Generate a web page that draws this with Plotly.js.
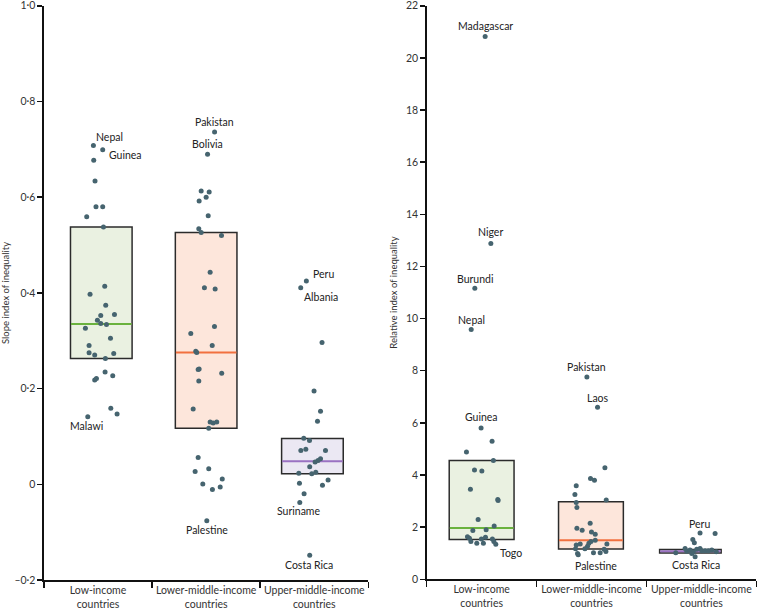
<!DOCTYPE html>
<html>
<head>
<meta charset="utf-8">
<script src="https://cdn.plot.ly/plotly-3.0.1.min.js"></script>
<style>
html,body{margin:0;padding:0;background:#fff;}
#chart{width:757px;height:609px;}
</style>
</head>
<body>
<div id="chart"></div>
<script>
// ---------- DATA ----------
const categories = ['Low-income<br>countries', 'Lower-middle-income<br>countries', 'Upper-middle-income<br>countries'];

// Slope index of inequality (left panel)
const siiLowValues = [0.708,0.699,0.677,0.634,0.580,0.580,0.559,0.5375,0.414,0.397,0.374,0.355,0.353,0.343,0.336,0.334,0.326,0.305,0.290,0.275,0.270,0.2735,0.263,0.2346,0.227,0.221,0.218,0.141,0.159,0.147];
const siiLowJitter = [-0.043,0.043,-0.04,-0.028,-0.019,0.043,-0.105,0.05,0.062,-0.074,0.071,0.152,0.025,-0.006,0.025,0.078,-0.117,0.115,-0.083,-0.083,-0.031,0.145,0.068,0.065,0.136,-0.015,-0.031,-0.095,0.118,0.176];
const siiLowNames = ['Nepal','Guinea','','','','','','','','','','','','','','','','','','','','','','','','','','Malawi','',''];

const siiLmValues = [0.736,0.690,0.613,0.611,0.600,0.592,0.561,0.534,0.526,0.520,0.443,0.411,0.408,0.330,0.315,0.290,0.278,0.2756,0.241,0.240,0.232,0.216,0.1575,0.130,0.128,0.130,0.117,0.056,0.027,0.0325,0.0006,0.011,-0.011,-0.0056,-0.076];
const siiLmJitter = [0.078,0.013,-0.046,0.028,0.0,-0.065,0.019,-0.068,-0.046,0.142,0.037,-0.016,0.083,0.077,-0.142,0.056,-0.096,-0.087,-0.065,-0.074,0.144,-0.068,-0.12,0.037,0.065,0.098,0.024,-0.074,-0.102,0.024,-0.031,0.149,0.058,0.13,0.006];
const siiLmNames = ['Pakistan','Bolivia','','','','','','','','','','','','','','','','','','','','','','','','','','','','','','','','','Palestine'];

const siiUmValues = [0.425,0.411,0.2965,0.195,0.1527,0.132,0.0965,0.0917,0.0708,0.0735,0.0708,0.0533,0.05,0.0465,0.0367,0.023,0.022,0.025,0.002,0.009,-0.002,-0.0196,-0.038,-0.148];
const siiUmJitter = [-0.073,-0.125,0.072,-0.002,0.058,0.03,-0.097,-0.044,-0.124,-0.078,0.104,0.058,0.035,0.008,-0.042,-0.143,-0.023,0.014,-0.137,0.128,0.076,-0.094,-0.134,-0.042];
const siiUmNames = ['Peru','Albania','','','','','','','','','','','','','','','','','','','','','Suriname','Costa Rica'];

const siiQ1 = [0.263, 0.117, 0.022];
const siiMedian = [0.335, 0.2756, 0.048];
const siiQ3 = [0.5375, 0.526, 0.0958];

// Relative index of inequality (right panel)
const riiLowValues = [20.82,12.88,11.16,9.58,5.80,5.30,4.88,4.56,4.19,4.15,3.45,3.06,3.02,2.29,2.04,1.90,1.87,1.63,1.57,1.45,1.38,1.38,1.55,1.61,1.55,1.45,1.34];
const riiLowJitter = [0.032,0.084,-0.062,-0.095,-0.005,0.095,-0.138,0.107,-0.065,0.002,-0.102,0.147,0.15,-0.032,0.114,0.041,-0.08,-0.129,-0.111,-0.098,-0.044,0.016,-0.002,0.035,0.098,0.111,0.129];
const riiLowNames = ['Madagascar','Niger','Burundi','Nepal','Guinea','','','','','','','','','','','','','','','','','','','','','','Togo'];

const riiLmValues = [7.76,6.60,4.28,3.87,3.80,3.59,3.25,3.04,2.95,2.75,2.15,1.96,1.88,1.81,1.73,1.50,1.45,1.38,1.35,1.32,1.35,1.27,1.17,1.17,1.15,1.07,1.02,1.02,0.99,0.94];
const riiLmJitter = [-0.042,0.055,0.122,-0.009,0.027,-0.139,-0.151,0.134,-0.139,-0.133,-0.012,-0.133,-0.085,0.0,0.034,0.034,-0.005,-0.024,-0.103,-0.139,0.14,-0.036,-0.06,-0.145,0.115,0.131,0.018,0.079,-0.127,-0.121];
const riiLmNames = ['Pakistan','Laos','','','','','','','','','','','','','','','','','','','','','','','','','Palestine','','',''];

const riiUmValues = [1.78,1.76,1.53,1.40,1.18,1.08,1.12,1.06,1.15,1.18,1.09,1.09,1.09,1.12,0.99,0.86,1.02,1.06];
const riiUmJitter = [-0.012,0.125,-0.078,-0.064,-0.148,-0.133,-0.103,-0.073,-0.042,-0.012,0.004,0.034,0.064,0.095,-0.087,-0.057,-0.233,0.136];
const riiUmNames = ['Peru','','','','','','','','','','','','','','','Costa Rica','',''];

const riiQ1 = [1.53, 1.16, 1.01];
const riiMedian = [1.97, 1.50, 1.075];
const riiQ3 = [4.56, 2.97, 1.14];

// ---------- STYLE ----------
const FONT = 'Lato, "Open Sans", sans-serif';
const dotColor = '#46646f';
const boxFill = ['#eaf1e1', '#fde6db', '#ebe8f3'];
const medianColor = ['#6ab23e', '#f2703f', '#9a72c2'];
const siiBoxCenter = [0.03, 0.0, -0.017];
const riiBoxCenter = [0.0, -0.005, -0.1];
const siiBoxWidth = [0.57, 0.57, 0.57];
const riiBoxWidth = [0.59, 0.59, 0.56];

// label offsets (pixels): [xanchor, xshift, yshift]
const labelOffsets = {
  'sii|Nepal': ['left', 1, 8.5], 'sii|Guinea': ['left', 4, -5], 'sii|Malawi': ['center', -1, -9.5],
  'sii|Pakistan': ['center', 0, 10], 'sii|Bolivia': ['center', 0, 10], 'sii|Palestine': ['center', 0, -9.5],
  'sii|Peru': ['left', 5, 6.6], 'sii|Albania': ['left', 1, -9], 'sii|Suriname': ['center', -0.7, -8.5],
  'sii|Costa Rica': ['center', -1, -10],
  'rii|Madagascar': ['center', 0.5, 11], 'rii|Niger': ['center', -0.7, 11.6], 'rii|Burundi': ['center', 0, 9],
  'rii|Nepal': ['center', 0, 9.7], 'rii|Pakistan': ['center', -0.7, 10.3], 'rii|Laos': ['center', 0, 9.7],
  'rii|Guinea': ['center', 0, 11], 'rii|Togo': ['left', 2.3, -9], 'rii|Palestine': ['center', 2.4, -13],
  'rii|Peru': ['center', -0.4, 9], 'rii|Costa Rica': ['center', 1, -8]
};

const groupsSii = [[siiLowValues, siiLowJitter, siiLowNames], [siiLmValues, siiLmJitter, siiLmNames], [siiUmValues, siiUmJitter, siiUmNames]];
const groupsRii = [[riiLowValues, riiLowJitter, riiLowNames], [riiLmValues, riiLmJitter, riiLmNames], [riiUmValues, riiUmJitter, riiUmNames]];

const traces = [];
const shapes = [];
const annotations = [];

function buildPanel(groups, q1, med, q3, centers, widths, xa, ya, key) {
  groups.forEach((g, i) => {
    const [vals, jit, names] = g;
    traces.push({
      type: 'scatter', mode: 'markers', xaxis: xa, yaxis: ya,
      x: jit.map(j => i + j), y: vals,
      marker: {size: 5, color: dotColor},
      hoverinfo: 'skip', showlegend: false
    });
    const xr = xa === 'x' ? 'x' : 'x2';
    const yr = ya === 'y' ? 'y' : 'y2';
    shapes.push({type: 'rect', xref: xr, yref: yr, layer: 'below',
      x0: i + centers[i] - widths[i] / 2, x1: i + centers[i] + widths[i] / 2, y0: q1[i], y1: q3[i],
      fillcolor: boxFill[i], line: {color: '#2b2b2b', width: 1.5}});
    shapes.push({type: 'line', xref: xr, yref: yr, layer: 'below',
      x0: i + centers[i] - widths[i] / 2 + 0.005, x1: i + centers[i] + widths[i] / 2 - 0.005, y0: med[i], y1: med[i],
      line: {color: medianColor[i], width: 2}});
    names.forEach((n, k) => {
      if (!n) return;
      const off = labelOffsets[key + '|' + n] || ['center', 0, 10];
      annotations.push({xref: xr, yref: yr, x: i + jit[k], y: vals[k], text: n, showarrow: false,
        xanchor: off[0], yanchor: 'middle', xshift: off[1], yshift: off[2],
        font: {family: FONT, size: 10.5, color: '#222'}});
    });
  });
}

buildPanel(groupsSii, siiQ1, siiMedian, siiQ3, siiBoxCenter, siiBoxWidth, 'x', 'y', 'sii');
buildPanel(groupsRii, riiQ1, riiMedian, riiQ3, riiBoxCenter, riiBoxWidth, 'x2', 'y2', 'rii');

const siiTicks = [-0.2, 0, 0.2, 0.4, 0.6, 0.8, 1.0];
const siiTickText = ['\u20130\u00b72', '0', '0\u00b72', '0\u00b74', '0\u00b76', '0\u00b78', '1\u00b70'];
const riiTicks = [0, 2, 4, 6, 8, 10, 12, 14, 16, 18, 20, 22];

const xBase = {
  range: [-0.5, 2.5], tickmode: 'array', tickvals: [0, 1, 2], ticktext: categories,
  ticks: '', showline: true, linecolor: '#111', linewidth: 1.5, showgrid: false, zeroline: false,
  tickfont: {family: FONT, size: 10.5, color: '#333'}, fixedrange: true, ticklabeloverflow: 'allow',
  minor: {tickmode: 'array', tickvals: [-0.5, 0.5, 1.5, 2.5], ticks: 'outside', ticklen: 6, tickwidth: 1.5, tickcolor: '#111', showgrid: false}
};
const yBase = {
  showline: true, linecolor: '#111', linewidth: 1.5, showgrid: false, zeroline: false,
  ticks: 'outside', ticklen: 5, tickwidth: 1.5, tickcolor: '#111', ticklabeloverflow: 'allow',
  tickfont: {family: FONT, size: 10.5, color: '#333'}, fixedrange: true
};

const layout = {
  width: 757, height: 609,
  margin: {l: 0, r: 0, t: 0, b: 0},
  paper_bgcolor: '#fff', plot_bgcolor: '#fff',
  showlegend: false,
  xaxis: Object.assign({}, xBase, {domain: [0.05812, 0.48653], anchor: 'y'}),
  xaxis2: Object.assign({}, xBase, {domain: [0.56367, 0.99908], anchor: 'y2'}),
  yaxis: Object.assign({}, yBase, {domain: [0.0476, 0.9905], anchor: 'x', range: [-0.2, 1.0],
    tickmode: 'array', tickvals: siiTicks, ticktext: siiTickText,
    title: {text: 'Slope index of inequality', font: {family: FONT, size: 9.5, color: '#333'}, standoff: 7}}),
  yaxis2: Object.assign({}, yBase, {domain: [0.0488, 0.9905], anchor: 'x2', range: [0, 22],
    tickmode: 'array', tickvals: riiTicks,
    title: {text: 'Relative index of inequality', font: {family: FONT, size: 9.5, color: '#333'}, standoff: 6}}),
  shapes: shapes,
  annotations: annotations
};

Plotly.newPlot('chart', traces, layout, {displayModeBar: false, staticPlot: true});
</script>
</body>
</html>
